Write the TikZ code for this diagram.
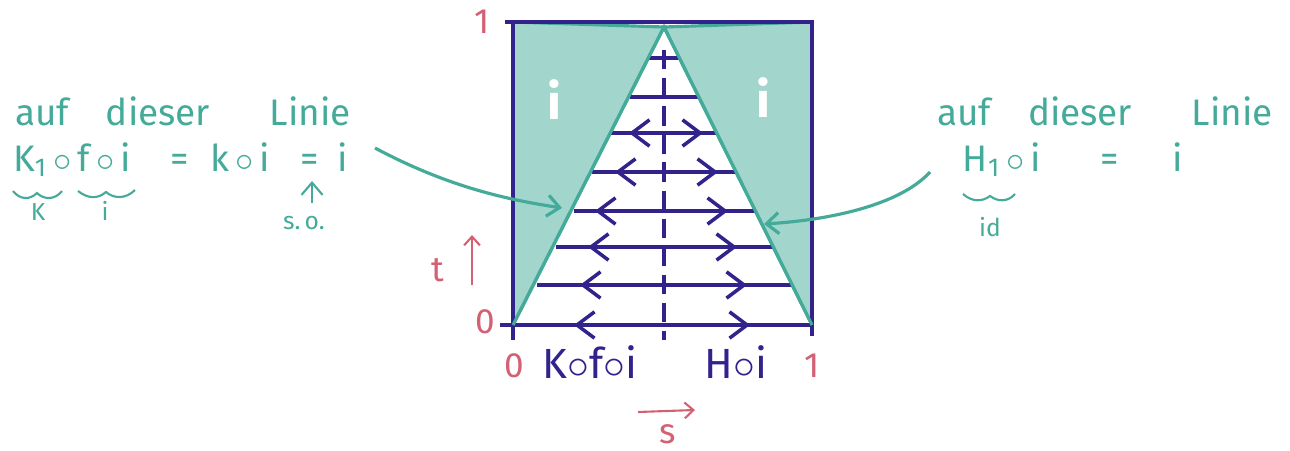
\documentclass[tikz,border=0pt]{standalone}
\usepackage{fontspec}
\setmainfont{Fira Sans}
\usetikzlibrary{arrows.meta}
\definecolor{sketchteal}{RGB}{68,170,153}
\definecolor{sketchfill}{RGB}{162,213,204}
\definecolor{sketchpurple}{RGB}{49,34,140}
\definecolor{sketchpink}{RGB}{212,96,116}
\tikzset{
  hand/.style={font=\fontsize{21}{24}\selectfont, text=sketchteal, inner sep=0pt, anchor=base},
  note/.style={font=\fontsize{14}{16}\selectfont, text=sketchteal, inner sep=0pt},
  axis/.style={font=\fontsize{20}{24}\selectfont, text=sketchpink, inner sep=0pt},
  flow/.style={draw=sketchpurple, line width=2pt},
  barb/.style={-{Straight Barb[length=10pt,width=15pt]}},
  edge/.style={draw=sketchteal, line width=1.8pt},
  link/.style={draw=sketchteal, line width=1.8pt, -{Straight Barb[length=7pt,width=12pt]}},
  pinkarrow/.style={draw=sketchpink, line width=1.2pt, -{Straight Barb[length=5pt,width=9pt]}}
}

\begin{document}
\begin{tikzpicture}[x=0.02cm, y=-0.02cm]
  \useasboundingbox (0,0) rectangle (1290,450);

  % shaded parts
  \filldraw[fill=sketchfill, edge] (513,22) -- (664,27) -- (513,325) -- cycle;
  \filldraw[fill=sketchfill, edge] (664,27) -- (812,22) -- (812,325) -- cycle;

  % unit square
  \draw[flow] (513,22) rectangle (812,325);
  \draw[flow] (505,22) -- (513,22);
  \draw[flow] (500,325) -- (513,325) -- (513,340);
  \draw[flow] (812,325) -- (812,336);

  % homotopy lines
  \foreach \y/\xl/\xr in {58/648/680, 97/630/698}
    \draw[flow] (\xl,\y) -- (\xr,\y);
  \foreach \y/\xl/\xr/\al/\ar in {133/611/716/629/703, 172/592/735/615/718, 211/574/755/595/728,
                                  247/556/773/588/737, 285/537/791/580/747, 325/513/812/574/750} {
    \draw[flow] (\xl,\y) -- (\xr,\y);
    \draw[flow, barb] (664,\y) -- (\al,\y);
    \draw[flow, barb] (664,\y) -- (\ar,\y);
  }
  \draw[flow, dash pattern=on 11pt off 5pt] (664,50) -- (664,340);
  \draw[edge] (513,325) -- (664,27) -- (812,325);

  \node[font=\bfseries\fontsize{28}{30}\selectfont, text=white] (ileft) at (554,100) {i};
  \node[font=\bfseries\fontsize{28}{30}\selectfont, text=white] (iright) at (763,98) {i};

  % axes
  \node[axis] (one) at (482,22) {1};
  \node[axis] (zero) at (485,322) {0};
  \node[axis] (szero) at (514,366) {0};
  \node[axis] (sone) at (812,366) {1};
  \node[axis] (tlabel) at (438,270) {t};
  \node[axis] (slabel) at (668,434) {s};
  \coordinate (tfrom) at (472,285);
  \coordinate (tto) at (472,235);
  \draw[pinkarrow] (tfrom) -- (tto);
  \coordinate (sfrom) at (638,412);
  \coordinate (sto) at (695,410);
  \draw[pinkarrow] (sfrom) -- (sto);

  \node[font=\fontsize{24}{28}\selectfont, text=sketchpurple, inner sep=0pt] (kfi) at (590,362) {K$\circ$f$\circ$i};
  \node[font=\fontsize{24}{28}\selectfont, text=sketchpurple, inner sep=0pt] (hi) at (736,362) {H$\circ$i};

  % left remark
  \node[hand] (lline) at (183,125) {auf\hspace{21pt}dieser\hspace{34pt}Linie};
  \node[hand] (lkfi) at (72,171) {K\textsubscript{1}\,$\circ$\,f\,$\circ$\,i};
  \node[hand] (leq) at (180,171) {=};
  \node[hand] (lki) at (240,171) {k\,$\circ$\,i};
  \node[hand] (leqb) at (310,171) {=};
  \node[hand] (li) at (343,171) {i};
  \draw[edge, line width=1.2pt] (13,191) .. controls (20,200) and (30,200) .. (37,193) .. controls (44,200) and (55,200) .. (62,191);
  \draw[edge, line width=1.2pt] (78,191) .. controls (88,199) and (98,199) .. (106,192) .. controls (114,199) and (126,199) .. (135,190);
  \node[note] (lk) at (38,212) {K};
  \node[note] (lsubi) at (105,211) {i};
  \node[note] (lso) at (304,223) {s.\,o.};
  \coordinate (sofrom) at (312,203);
  \coordinate (soto) at (312,181);
  \draw[link, line width=1.2pt] (sofrom) -- (soto);

  % right remark
  \node[hand] (rline) at (1105,125) {auf\hspace{21pt}dieser\hspace{34pt}Linie};
  \node[hand] (rhi) at (1002,171) {H\textsubscript{1}\,$\circ$\,i};
  \node[hand] (req) at (1110,171) {=};
  \node[hand] (ri) at (1178,171) {i};
  \draw[edge, line width=1.2pt] (963,194) .. controls (972,202) and (982,202) .. (990,196) .. controls (998,202) and (1008,202) .. (1015,194);
  \node[note] (rid) at (990,227) {id};

  % pointers to the edges
  \coordinate (lstart) at (375,148);
  \coordinate (lend) at (562,208);
  \draw[link] (lstart) .. controls (450,188) and (510,200) .. (lend);
  \coordinate (rstart) at (930,172);
  \coordinate (rend) at (764,224);
  \draw[link] (rstart) .. controls (900,205) and (830,220) .. (rend);
\end{tikzpicture}
\end{document}
